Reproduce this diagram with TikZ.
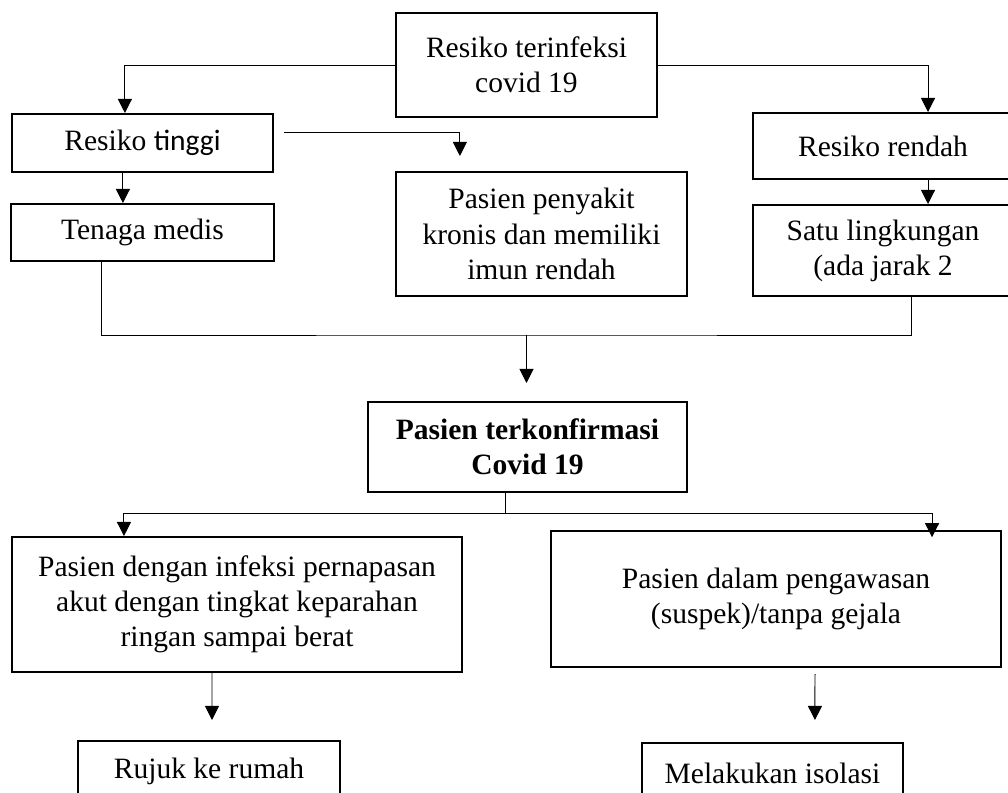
\documentclass[tikz,border=0pt]{standalone}
\usepackage{fontspec}
\setmainfont{Liberation Serif}
\newfontfamily\calfont{Carlito}
\usetikzlibrary{arrows.meta}

\begin{document}
\begin{tikzpicture}[x=0.025cm,y=-0.025cm,
    box/.style={draw,line width=1.4pt,align=center,inner sep=0pt,
      font=\fontsize{21}{25}\selectfont},
    arr/.style={-{Triangle[length=10pt,width=10pt]},line width=0.7pt}]
  \clip (0,0) rectangle (1008,793);
  \fill[white] (0,0) rectangle (1008,793);
  % nodes
  \node[box,minimum width=6.525cm,minimum height=2.6cm] (risiko) at (526.5,65)
    {Resiko terinfeksi\\covid 19};
  \node[box,minimum width=6.525cm,minimum height=1.45cm] (tinggi) at (142.5,143)
    {Resiko {\calfont tinggi}};
  \node[box,minimum width=6.55cm,minimum height=1.425cm] (medis) at (142.5,232.5)
    {Tenaga medis};
  \node[box,minimum width=7.275cm,minimum height=3.1cm] (kronis) at (541.5,234)
    {Pasien penyakit\\kronis dan memiliki\\imun rendah};
  \node[box,minimum width=6.5cm,minimum height=1.65cm] (rendah) at (883,146)
    {Resiko rendah};
  \node[box,minimum width=6.5cm,minimum height=2.275cm] (satu) at (883,250.5)
    {Satu lingkungan\\(ada jarak 2};
  \node[box,font=\fontsize{21}{25}\selectfont\bfseries,minimum width=7.975cm,
    minimum height=2.25cm] (konfirmasi) at (527.5,447)
    {Pasien terkonfirmasi\\Covid 19};
  \node[box,minimum width=11.25cm,minimum height=3.375cm] (infeksi) at (237,604.5)
    {Pasien dengan infeksi pernapasan\\akut dengan tingkat keparahan\\ringan sampai berat};
  \node[box,minimum width=11.25cm,minimum height=3.4cm] (pengawasan) at (776,599)
    {Pasien dalam pengawasan\\(suspek)/tanpa gejala};
  \node[box,minimum width=6.55cm,minimum height=1.5cm] (rujuk) at (209,771)
    {Rujuk ke rumah};
  \node[box,minimum width=6.525cm,minimum height=1.5cm] (isolasi) at (772.5,773)
    {Melakukan isolasi};
  \coordinate (merge) at (526.5,335);
  \coordinate (split) at (505,513);
  % connectors
  \draw[arr] (risiko.west) -| ([xshift=-0.44cm]tinggi.north);
  \draw[arr] (risiko.east) -| ([xshift=1.125cm]rendah.north);
  \draw[arr] ([xshift=-0.49cm]tinggi.south) -- ([xshift=-0.49cm]medis.north);
  \draw[arr] ([shift={(0.25cm,0.275cm)}]tinggi.east) -| ([shift={(-2.04cm,0.375cm)}]kronis.north);
  \draw[arr] ([xshift=1.125cm]rendah.south) -- ([xshift=1.125cm]satu.north);
  \draw[line width=0.7pt] ([xshift=-1.025cm]medis.south) |- (merge) -| ([xshift=0.7cm]satu.south);
  \draw[arr,shorten >=0.45cm] (merge) -- (merge |- konfirmasi.north);
  \draw[line width=0.7pt] (split |- konfirmasi.south) -- (split);
  \draw[arr] (split) -| ([xshift=-2.825cm]infeksi.north);
  \draw[arr,shorten >=-0.18cm] (split) -| ([xshift=3.9cm]pengawasan.north);
  \draw[arr,shorten >=0.5cm] ([xshift=-0.625cm]infeksi.south) -- ([xshift=0.075cm]rujuk.north);
  \draw[arr,shorten <=0.15cm,shorten >=0.55cm] ([xshift=0.975cm]pengawasan.south)
    -- ([xshift=1.06cm]isolasi.north);
\end{tikzpicture}
\end{document}
